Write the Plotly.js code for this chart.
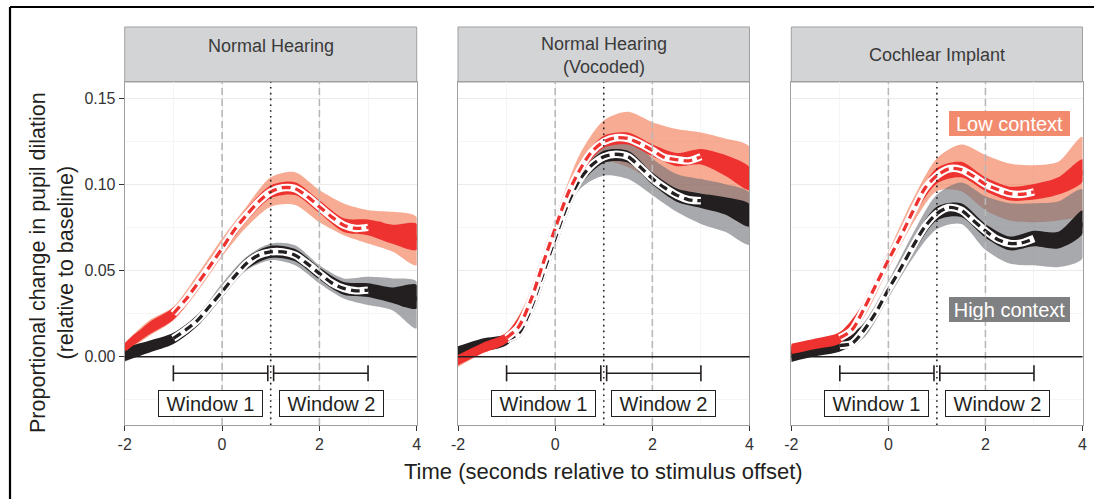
<!DOCTYPE html>
<html>
<head>
<meta charset="utf-8">
<script src="https://cdn.plot.ly/plotly-3.0.1.min.js"></script>
<style>html,body{margin:0;padding:0;background:#fff;}#chart{width:1094px;height:499px;}</style>
</head>
<body>
<div id="chart"></div>
<script>
// ---------------- data ----------------
const panelTitles = ["Normal Hearing", "Normal Hearing<br>(Vocoded)", "Cochlear Implant"];
const tMean = [-2,-1.75,-1.5,-1.25,-1,-0.75,-0.5,-0.25,0,0.25,0.5,0.75,1,1.25,1.5,1.75,2,2.25,2.5,2.75,3,3.25,3.5,3.75,4];
const tBand = [-2,-1.5,-1,-0.5,0,0.5,1,1.5,2,2.5,3,3.5,4];

// Normal Hearing
const nhLowMean  = [0.005,0.0116,0.0164,0.0212,0.025,0.033,0.0425,0.0525,0.0628,0.0734,0.082,0.0898,0.0956,0.098,0.0975,0.093,0.087,0.0811,0.0763,0.0744,0.075,0.0763,0.071,0.0676,0.0695];
const nhHighMean = [0.0015,0.0035,0.0058,0.0081,0.0106,0.0155,0.0212,0.0294,0.0377,0.0463,0.054,0.0589,0.0608,0.0608,0.0589,0.054,0.0483,0.0429,0.0396,0.0382,0.0386,0.0377,0.0357,0.0309,0.0348];
const nhLowCiLo  = [0.002,0.012,0.021,0.038,0.058,0.075,0.087,0.088,0.078,0.0705,0.0657,0.061,0.053];
const nhLowCiHi  = [0.008,0.021,0.029,0.048,0.0686,0.087,0.104,0.107,0.0966,0.0888,0.085,0.084,0.081];
const nhHighCiLo = [-0.003,0.003,0.0077,0.018,0.0348,0.050,0.056,0.053,0.0425,0.0338,0.030,0.027,0.0164];
const nhHighCiHi = [0.0048,0.0077,0.0125,0.024,0.0425,0.058,0.0657,0.0647,0.053,0.0454,0.0463,0.0454,0.0435];
const nhLowSe    = [0.002,0.0035,0.0035,0.0035,0.0035,0.0035,0.0037,0.0037,0.0037,0.004,0.0045,0.0055,0.0075];
const nhHighSe   = [0.004,0.0035,0.0033,0.0033,0.0033,0.0033,0.0035,0.0035,0.0035,0.0037,0.004,0.0045,0.0068];

// Normal Hearing (Vocoded)
const vocLowMean  = [-0.002,0.002,0.005,0.008,0.011,0.0174,0.0328,0.054,0.0744,0.0937,0.108,0.1188,0.1246,0.127,0.1265,0.1236,0.1197,0.1155,0.1143,0.1136,0.116,0.114,0.111,0.1047,0.1033];
const vocHighMean = [0.002,0.004,0.0068,0.0088,0.010,0.0135,0.028,0.048,0.0686,0.0879,0.1024,0.111,0.1159,0.1174,0.116,0.110,0.1033,0.098,0.0937,0.091,0.0905,0.0898,0.0875,0.081,0.082];
const vocLowCiLo  = [-0.006,0.002,0.008,0.030,0.070,0.100,0.113,0.110,0.102,0.096,0.095,0.090,0.088];
const vocLowCiHi  = [0.002,0.008,0.014,0.038,0.080,0.117,0.137,0.142,0.136,0.132,0.130,0.1265,0.1217];
const vocHighCiLo = [-0.002,0.003,0.007,0.025,0.065,0.097,0.105,0.103,0.0937,0.084,0.077,0.0724,0.065];
const vocHighCiHi = [0.006,0.010,0.013,0.033,0.076,0.111,0.128,0.129,0.115,0.106,0.103,0.100,0.095];
const vocLowSe    = [0.003,0.003,0.003,0.0033,0.0033,0.0035,0.0035,0.0035,0.0035,0.0038,0.0045,0.006,0.0065];
const vocHighSe   = [0.004,0.0038,0.0033,0.0033,0.0033,0.0035,0.0035,0.0035,0.0035,0.0038,0.0042,0.005,0.0065];

// Cochlear Implant
const ciLowMean  = [0.0045,0.006,0.0075,0.009,0.011,0.0155,0.028,0.042,0.056,0.0695,0.084,0.0975,0.105,0.109,0.1085,0.1047,0.100,0.097,0.0946,0.0942,0.0956,0.0966,0.099,0.1024,0.108];
const ciHighMean = [0.001,0.0025,0.004,0.005,0.0065,0.0077,0.0155,0.026,0.039,0.051,0.0637,0.0753,0.083,0.0865,0.085,0.079,0.073,0.068,0.0657,0.066,0.0685,0.0672,0.0676,0.0715,0.078];
const ciLowCiLo  = [0.002,0.005,0.008,0.023,0.051,0.077,0.096,0.096,0.085,0.079,0.078,0.079,0.083];
const ciLowCiHi  = [0.007,0.010,0.014,0.032,0.061,0.091,0.115,0.123,0.117,0.112,0.111,0.113,0.1275];
const ciHighCiLo = [-0.002,0.001,0.003,0.011,0.034,0.057,0.074,0.077,0.062,0.054,0.053,0.052,0.057];
const ciHighCiHi = [0.004,0.007,0.009,0.020,0.044,0.071,0.094,0.101,0.093,0.089,0.089,0.090,0.097];
const ciLowSe    = [0.003,0.003,0.0033,0.0035,0.0035,0.0035,0.0045,0.0045,0.004,0.004,0.0045,0.005,0.0065];
const ciHighSe   = [0.004,0.0038,0.0035,0.0035,0.0035,0.004,0.004,0.004,0.004,0.004,0.0045,0.0048,0.0068];

// analysis windows
const windowNames = ["Window 1", "Window 2"];
const windowStart = [-1, 1.06];
const windowEnd   = [0.94, 3];
const windowBarY  = -0.0096;
const windowLabelX = [-0.24, 2.24];
const windowLabelY = -0.0272;
const highlightStart = -1, highlightEnd = 3;

const conditionNames = ["Low context", "High context"];
const conditionLabelX = [2.5, 2.5];
const conditionLabelY = [0.1351, 0.0276];

// ---------------- styling ----------------
const FONT = "Liberation Sans, Arial, Helvetica, sans-serif";
const RED = "#ee3230", BLACK = "#231f20";
const SALMON = "rgba(240,102,59,0.55)", GREY = "rgba(108,112,117,0.6)";
const xDomains = [[0.1140, 0.3809], [0.41865, 0.6851], [0.72331, 0.98949]];
const yDomain = [0.1483, 0.83567];
const yRange = [-0.0396, 0.1593];

const panels = [
  {low:[nhLowMean,nhLowCiLo,nhLowCiHi,nhLowSe], high:[nhHighMean,nhHighCiLo,nhHighCiHi,nhHighSe]},
  {low:[vocLowMean,vocLowCiLo,vocLowCiHi,vocLowSe], high:[vocHighMean,vocHighCiLo,vocHighCiHi,vocHighSe]},
  {low:[ciLowMean,ciLowCiLo,ciLowCiHi,ciLowSe], high:[ciHighMean,ciHighCiLo,ciHighCiHi,ciHighSe]}
];

const traces = [];
function poly(xs, lo, hi) {
  return {x: xs.concat(xs.slice().reverse()), y: hi.concat(lo.slice().reverse())};
}
panels.forEach((p, i) => {
  const xa = i === 0 ? "x" : "x" + (i + 1), ya = i === 0 ? "y" : "y" + (i + 1);
  const base = {xaxis: xa, yaxis: ya, showlegend: false, hoverinfo: "skip", type: "scatter"};
  // light CI ribbons
  [[p.low, SALMON], [p.high, GREY]].forEach(([s, col]) => {
    const pg = poly(tBand, s[1], s[2]);
    traces.push(Object.assign({}, base, {x: pg.x, y: pg.y, mode: "lines", fill: "toself", fillcolor: col,
      line: {width: 0, shape: "spline", smoothing: 0.8}}));
  });
  // dark bands + highlighted window segment
  [[p.high, BLACK], [p.low, RED]].forEach(([s, col]) => {
    const mean = s[0];
    const meanAtBand = tBand.map(t => mean[tMean.indexOf(t)]);
    const lo = meanAtBand.map((m, k) => m - s[3][k]);
    const hi = meanAtBand.map((m, k) => m + s[3][k]);
    const pg = poly(tBand, lo, hi);
    traces.push(Object.assign({}, base, {x: pg.x, y: pg.y, mode: "lines", fill: "toself", fillcolor: col,
      line: {width: 0, shape: "spline", smoothing: 0.8}}));
    traces.push(Object.assign({}, base, {x: tMean, y: mean, mode: "lines",
      line: {color: col, width: 7, shape: "spline", smoothing: 0.8}}));
    const idx = tMean.map((t, k) => k).filter(k => tMean[k] >= highlightStart && tMean[k] <= highlightEnd);
    const hx = idx.map(k => tMean[k]), hy = idx.map(k => mean[k]);
    traces.push(Object.assign({}, base, {x: hx, y: hy, mode: "lines",
      line: {color: "#ffffff", width: 7.5, shape: "spline", smoothing: 0.8}}));
    traces.push(Object.assign({}, base, {x: hx, y: hy, mode: "lines",
      line: {color: col, width: 3.3, dash: "9px,5px", shape: "spline", smoothing: 0.8}}));
  });
  // window bars
  traces.push(Object.assign({}, base, {
    x: windowStart.map((s, k) => (s + windowEnd[k]) / 2),
    y: windowStart.map(() => windowBarY),
    mode: "markers", marker: {size: 1, color: "rgba(0,0,0,0)"},
    error_x: {type: "data", symmetric: true, array: windowStart.map((s, k) => (windowEnd[k] - s) / 2),
      color: BLACK, thickness: 1.6, width: 8}
  }));
});

const layout = {
  width: 1094, height: 499,
  margin: {l: 0, r: 0, t: 0, b: 0},
  paper_bgcolor: "#ffffff", plot_bgcolor: "#ffffff",
  font: {family: FONT, color: "#333333"},
  showlegend: false,
  shapes: [], annotations: []
};

for (let i = 0; i < 3; i++) {
  const sfx = i === 0 ? "" : String(i + 1);
  layout["xaxis" + sfx] = {
    domain: xDomains[i], range: [-2, 4], anchor: "y" + sfx,
    tickmode: "array", tickvals: [-2, 0, 2, 4], ticktext: ["-2", "0", "2", "4"],
    ticks: "outside", ticklen: 5, tickwidth: 1, tickcolor: "#333333",
    tickfont: {size: 16, color: "#333333", family: FONT},
    showgrid: true, gridcolor: "#ebebeb", gridwidth: 1,
    minor: {tickvals: [-1, 1, 3], showgrid: true, gridcolor: "#f5f5f5", gridwidth: 1, ticks: ""},
    showline: true, mirror: true, linecolor: "#a0a0a0", linewidth: 1,
    zeroline: false, fixedrange: true
  };
  layout["yaxis" + sfx] = {
    domain: yDomain, range: yRange, anchor: "x" + sfx,
    tickmode: "array", tickvals: [0, 0.05, 0.10, 0.15], ticktext: ["0.00", "0.05", "0.10", "0.15"],
    showticklabels: i === 0,
    ticks: i === 0 ? "outside" : "", ticklen: 5, tickwidth: 1, tickcolor: "#333333",
    tickfont: {size: 16, color: "#333333", family: FONT},
    showgrid: true, gridcolor: "#ebebeb", gridwidth: 1,
    minor: {tickvals: [-0.025, 0.025, 0.075, 0.125], showgrid: true, gridcolor: "#f5f5f5", gridwidth: 1, ticks: ""},
    showline: true, mirror: true, linecolor: "#a0a0a0", linewidth: 1,
    zeroline: false, fixedrange: true
  };
  const xr = "x" + sfx, yr = "y" + sfx;
  // strip
  layout.shapes.push({type: "rect", xref: xr + " domain", yref: "paper", x0: 0, x1: 1, y0: 0.83567, y1: 0.9459,
    fillcolor: "#d3d4d6", line: {color: "#a0a0a0", width: 1}, layer: "below"});
  // reference lines
  [0, 2].forEach(v => layout.shapes.push({type: "line", xref: xr, yref: yr + " domain", x0: v, x1: v, y0: 0, y1: 1,
    line: {color: "#b8b8b8", width: 1.6, dash: "7px,4px"}, layer: "above"}));
  layout.shapes.push({type: "line", xref: xr, yref: yr + " domain", x0: 1, x1: 1, y0: 0, y1: 1,
    line: {color: BLACK, width: 1.6, dash: "1.6px,4.2px"}, layer: "above"});
  layout.shapes.push({type: "line", xref: xr + " domain", yref: yr, x0: 0, x1: 1, y0: 0, y1: 0,
    line: {color: BLACK, width: 1.6}, layer: "above"});
  // strip title
  layout.annotations.push({xref: xr + " domain", yref: "paper", x: 0.5, y: [0.9078, 0.8878, 0.8898][i],
    text: panelTitles[i], showarrow: false, font: {size: 18, color: "#3a3a3a", family: FONT}, xanchor: "center", yanchor: "middle"});
  // window labels
  windowNames.forEach((w, k) => layout.annotations.push({xref: xr, yref: yr, x: windowLabelX[k], y: windowLabelY,
    text: w, showarrow: false, font: {size: 20, color: BLACK, family: FONT},
    bgcolor: "#ffffff", bordercolor: BLACK, borderwidth: 1, borderpad: 2, width: 99, height: 21,
    xanchor: "center", yanchor: "middle"}));
}

// condition labels (third panel)
layout.annotations.push({xref: "x3", yref: "y3", x: conditionLabelX[0], y: conditionLabelY[0], text: conditionNames[0],
  showarrow: false, font: {size: 20, color: "#ffffff", family: FONT}, bgcolor: "#f28b6e",
  borderpad: 2, borderwidth: 0, width: 117, height: 21, xanchor: "center", yanchor: "middle"});
layout.annotations.push({xref: "x3", yref: "y3", x: conditionLabelX[1], y: conditionLabelY[1], text: conditionNames[1],
  showarrow: false, font: {size: 20, color: "#ffffff", family: FONT}, bgcolor: "#7f8082",
  borderpad: 2, borderwidth: 0, width: 117, height: 21, xanchor: "center", yanchor: "middle"});

// axis titles
layout.annotations.push({xref: "paper", yref: "paper", x: 0.5521, y: 0.0561,
  text: "Time (seconds relative to stimulus offset)", showarrow: false,
  font: {size: 22, color: "#231f20", family: FONT}, xanchor: "center", yanchor: "middle"});
layout.annotations.push({xref: "paper", yref: "paper", x: 0.0475, y: 0.4749,
  text: "Proportional change in pupil dilation<br>(relative to baseline)", showarrow: false, textangle: -90,
  font: {size: 21.5, color: "#231f20", family: FONT}, xanchor: "center", yanchor: "middle"});

// outer frame (top and left edges)
layout.shapes.push({type: "line", xref: "paper", yref: "paper", x0: 0.00914, x1: 1.01, y0: 0.98597, y1: 0.98597,
  line: {color: "#000000", width: 2.2}});
layout.shapes.push({type: "line", xref: "paper", yref: "paper", x0: 0.00914, x1: 0.00914, y0: -0.01, y1: 0.98597,
  line: {color: "#000000", width: 2.2}});

Plotly.newPlot("chart", traces, layout, {staticPlot: true, displayModeBar: false});
</script>
</body>
</html>
